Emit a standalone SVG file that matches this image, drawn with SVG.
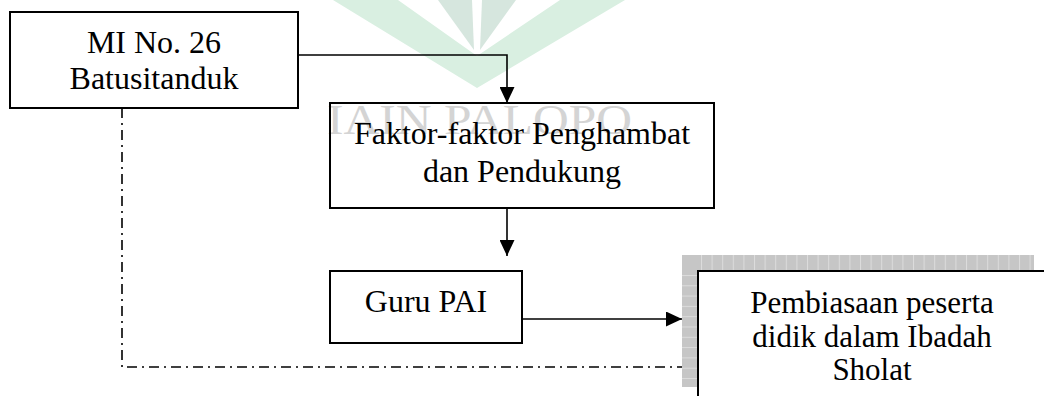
<svg xmlns="http://www.w3.org/2000/svg" width="1044" height="396" viewBox="0 0 1044 396">
<style>
.box{fill:#fff;stroke:#000;stroke-width:2}
.t{font-family:"Liberation Serif","Times New Roman",serif;font-size:32px;fill:#000;text-anchor:middle}
.t31{font-size:31px}
.ln{fill:none;stroke:#000;stroke-width:1.6}
.dd{fill:none;stroke:#000;stroke-width:1.6;stroke-dasharray:10 5 2 5}
.wm{font-family:"Liberation Serif","Times New Roman",serif;font-size:42px;fill:#d4d4d4}
</style>
<defs>
<marker id="ah" viewBox="0 0 16 15" refX="16" refY="7.5" markerWidth="16" markerHeight="15" markerUnits="userSpaceOnUse" orient="auto">
<path d="M0,0 L16,7.5 L0,15 Z" fill="#000"/>
</marker>
<pattern id="pv" patternUnits="userSpaceOnUse" x="701" y="0" width="10.6" height="20">
<rect width="10.6" height="20" fill="#c6c6c6"/>
<rect x="0" width="1" height="20" fill="#dcdcdc"/>
</pattern>
<pattern id="ph" patternUnits="userSpaceOnUse" x="0" y="275" width="20" height="10.3">
<rect width="20" height="10.3" fill="#c6c6c6"/>
<rect y="0" width="20" height="1" fill="#dcdcdc"/>
</pattern>
</defs>
<rect width="1044" height="396" fill="#fff"/>
<g id="watermark">
<polygon points="333,0 477,88 625,0 560,0 477,56 398,0" fill="#d9efe1"/>
<polygon points="438,0 472,0 474,50" fill="#d6e6de"/>
<polygon points="482,0 516,0 480,50" fill="#d6e6de"/>
<text class="wm" x="327" y="134" textLength="305" lengthAdjust="spacingAndGlyphs">IAIN PALOPO</text>
</g>
<g id="connectors">
<polyline class="ln" points="298,55 507,55 507,103" marker-end="url(#ah)"/>
<line class="ln" x1="507" y1="208" x2="507" y2="256" marker-end="url(#ah)"/>
<line class="ln" x1="522" y1="319" x2="682" y2="319" marker-end="url(#ah)"/>
<polyline class="dd" points="122,108 122,367 698,367"/>
</g>
<g id="node-mi">
<rect class="box" x="10" y="12" width="288" height="96"/>
<text class="t" x="154" y="53">MI No. 26</text>
<text class="t" x="154" y="89">Batusitanduk</text>
</g>
<g id="node-faktor">
<rect x="330" y="103" width="384" height="105" fill="none" stroke="#000" stroke-width="2"/>
<text class="t" x="522" y="144">Faktor-faktor Penghambat</text>
<text class="t" x="522" y="182">dan Pendukung</text>
</g>
<g id="node-guru">
<rect class="box" x="330" y="271" width="192" height="72"/>
<text class="t" x="426" y="312">Guru PAI</text>
</g>
<g id="node-pembiasaan">
<rect x="682" y="255" width="352" height="16" fill="url(#pv)"/>
<rect x="682" y="271" width="16" height="116" fill="url(#ph)"/>
<rect x="682" y="255" width="16" height="16" fill="#c6c6c6"/>
<rect class="box" x="698" y="271" width="360" height="140"/>
<text class="t t31" x="872" y="313">Pembiasaan peserta</text>
<text class="t t31" x="872" y="347">didik dalam Ibadah</text>
<text class="t t31" x="872" y="380">Sholat</text>
</g>
</svg>
